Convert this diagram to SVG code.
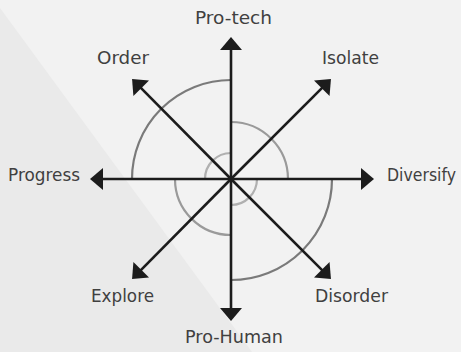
<svg xmlns="http://www.w3.org/2000/svg" width="461" height="352" viewBox="0 0 461 352">
  <style>
    .lbl { font-family: "DejaVu Sans", "Liberation Sans", sans-serif; font-size: 17px; fill: #404040; }
    .axis { stroke: #1c1c1c; stroke-width: 2.6; fill: none; marker-end: url(#ah); }
    .arc { fill: none; stroke-width: 2.2; }
    .big { stroke: #7a7a7a; }
    .mid { stroke: #9a9a9a; }
    .small { stroke: #b0b0b0; }
  </style>
  <defs>
    <marker id="ah" markerUnits="userSpaceOnUse" markerWidth="30" markerHeight="30" refX="0" refY="0" viewBox="-10 -15 30 30" orient="auto" overflow="visible">
      <path d="M-4,-11 L9,0 L-4,11 Z" fill="#1c1c1c"/>
    </marker>
  </defs>
  <rect width="461" height="352" fill="#f2f2f2"/>
  <polygon points="0,8 252,352 0,352" fill="#eaeaea"/>

  <g id="spiral">
    <path class="arc big" d="M231,80 A99,99 0 0 0 132,179"/>
    <path class="arc big" d="M332,179 A101,101 0 0 1 231,280"/>
    <path class="arc mid" d="M231,122 A57,57 0 0 1 288,179"/>
    <path class="arc mid" d="M175,179 A56,56 0 0 0 231,235"/>
    <path class="arc small" d="M205,179 A26,26 0 0 1 231,153"/>
    <path class="arc small" d="M257,179 A26,26 0 0 1 231,205"/>
  </g>

  <g id="connectors">
    <line class="axis" x1="231" y1="179" x2="231" y2="46"/>
    <line class="axis" x1="231" y1="179" x2="231" y2="312"/>
    <line class="axis" x1="231" y1="179" x2="99" y2="179"/>
    <line class="axis" x1="231" y1="179" x2="365" y2="179"/>
    <line class="axis" x1="231" y1="179" x2="138.4" y2="85.4"/>
    <line class="axis" x1="231" y1="179" x2="324.6" y2="85.4"/>
    <line class="axis" x1="231" y1="179" x2="138.4" y2="272.6"/>
    <line class="axis" x1="231" y1="179" x2="324.6" y2="272.6"/>
  </g>

  <g id="pro-tech"><text class="lbl" x="195" y="24" textLength="77" lengthAdjust="spacingAndGlyphs">Pro-tech</text></g>
  <g id="order"><text class="lbl" x="97" y="64" textLength="52" lengthAdjust="spacingAndGlyphs">Order</text></g>
  <g id="isolate"><text class="lbl" x="322" y="64" textLength="57" lengthAdjust="spacingAndGlyphs">Isolate</text></g>
  <g id="progress"><text class="lbl" x="8" y="181" textLength="72" lengthAdjust="spacingAndGlyphs">Progress</text></g>
  <g id="diversify"><text class="lbl" x="387" y="181" textLength="69" lengthAdjust="spacingAndGlyphs">Diversify</text></g>
  <g id="explore"><text class="lbl" x="91" y="302" textLength="63" lengthAdjust="spacingAndGlyphs">Explore</text></g>
  <g id="disorder"><text class="lbl" x="315" y="302" textLength="73" lengthAdjust="spacingAndGlyphs">Disorder</text></g>
  <g id="pro-human"><text class="lbl" x="185" y="343" textLength="98" lengthAdjust="spacingAndGlyphs">Pro-Human</text></g>
</svg>
